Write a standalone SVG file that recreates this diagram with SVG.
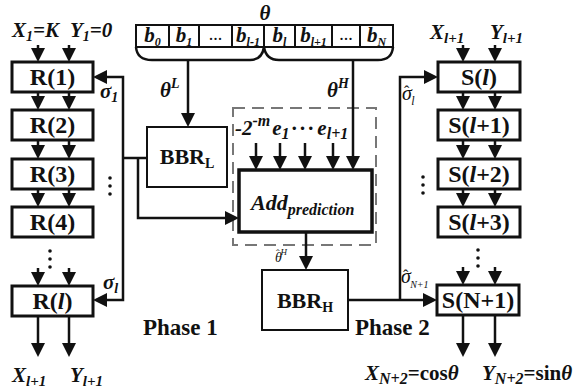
<svg xmlns="http://www.w3.org/2000/svg" width="580" height="390" viewBox="0 0 580 390" font-family="'Liberation Serif', 'DejaVu Serif', serif">
<style>
.box{fill:#fff;stroke:#111;stroke-width:3}
.thin{stroke-width:2}
.thick{stroke-width:3.5}
.c{fill:none;stroke:#111;stroke-width:2.5}
.dash{fill:none;stroke:#777;stroke-width:2;stroke-dasharray:12 7}
text{font-family:'Liberation Serif','DejaVu Serif',serif;fill:#111}
.lbl{font-size:24px;font-weight:bold;text-anchor:middle}
.v{font-style:italic;font-weight:bold;font-size:21px}
.i{font-style:italic}
.dot{fill:#111}
</style>
<defs>
<marker id="ah" viewBox="0 0 14 14" refX="9" refY="7" markerWidth="14" markerHeight="14" markerUnits="userSpaceOnUse" orient="auto">
<path d="M0,0 L14,7 L0,14 z" fill="#111" stroke="none"/>
</marker>
</defs>
<rect width="580" height="390" fill="#fff"/>

<!-- theta register -->
<g id="theta">
<text x="265" y="20" class="v" font-size="22" text-anchor="middle">θ</text>
<rect x="136" y="25" width="257" height="22" class="box thin"/>
<path d="M169,25V47M199,25V47M232,25V47M264,25V47M295,25V47M332,25V47M360,25V47" fill="none" stroke="#111" stroke-width="2"/>
<g text-anchor="middle">
<text x="152.5" y="42" class="v" font-size="20">b<tspan font-size="12" dy="4">0</tspan></text>
<text x="184" y="42" class="v" font-size="20">b<tspan font-size="12" dy="4">1</tspan></text>
<text x="215.5" y="40" font-size="18">...</text>
<text x="248" y="42" class="v" font-size="20">b<tspan font-size="12" dy="4">l-1</tspan></text>
<text x="279.5" y="42" class="v" font-size="20">b<tspan font-size="12" dy="4">l</tspan></text>
<text x="313.5" y="42" class="v" font-size="20">b<tspan font-size="12" dy="4">l+1</tspan></text>
<text x="346" y="40" font-size="18">...</text>
<text x="376.5" y="42" class="v" font-size="20">b<tspan font-size="12" dy="4">N</tspan></text>
</g>
<path d="M136,47 Q137,60 152,60 L250,60 Q262,60 264,47 Q266,60 279,60 L378,60 Q392,60 393,47" class="c"/>
</g>

<!-- R column -->
<g id="R1"><rect x="12" y="62" width="81" height="30" class="box"/><text x="52.5" y="85" class="lbl">R(1)</text></g>
<g id="R2"><rect x="12" y="110" width="81" height="30" class="box"/><text x="52.5" y="133" class="lbl">R(2)</text></g>
<g id="R3"><rect x="12" y="159" width="81" height="30" class="box"/><text x="52.5" y="182" class="lbl">R(3)</text></g>
<g id="R4"><rect x="12" y="207" width="81" height="30" class="box"/><text x="52.5" y="230" class="lbl">R(4)</text></g>
<g id="Rl"><rect x="12" y="286" width="81" height="30" class="box"/><text x="52.5" y="309" class="lbl">R(<tspan class="i">l</tspan>)</text></g>

<!-- S column -->
<g id="Sl"><rect x="438" y="62" width="82" height="30" class="box"/><text x="479" y="85" class="lbl">S(<tspan class="i">l</tspan>)</text></g>
<g id="Sl1"><rect x="438" y="110" width="82" height="30" class="box"/><text x="479" y="133" class="lbl">S(<tspan class="i">l</tspan>+1)</text></g>
<g id="Sl2"><rect x="438" y="159" width="82" height="30" class="box"/><text x="479" y="182" class="lbl">S(<tspan class="i">l</tspan>+2)</text></g>
<g id="Sl3"><rect x="438" y="207" width="82" height="30" class="box"/><text x="479" y="230" class="lbl">S(<tspan class="i">l</tspan>+3)</text></g>
<g id="SN1"><rect x="437" y="285" width="82" height="30" class="box"/><text x="478" y="308" class="lbl">S(N+1)</text></g>

<!-- BBR_L -->
<g id="BBRL"><rect x="147" y="127" width="80" height="60" class="box thin"/><text x="187" y="164" font-size="22" font-weight="bold" text-anchor="middle">BBR<tspan font-size="14" dy="4">L</tspan></text></g>

<!-- Add prediction -->
<g id="add">
<rect x="233" y="108" width="143" height="137" class="dash"/>
<text x="235" y="135" class="v" font-size="22">-2<tspan font-size="16" dy="-9">-m</tspan><tspan dy="9" dx="2">e</tspan><tspan font-size="16" dy="4">1</tspan><tspan dy="-4" dx="2" letter-spacing="3">···</tspan><tspan dx="1">e</tspan><tspan font-size="16" dy="4">l+1</tspan></text>
<rect x="239" y="170" width="133" height="62" class="box thick"/>
<text x="251" y="210" font-size="22" font-style="italic" font-weight="bold">Add<tspan font-size="16" dy="5">prediction</tspan></text>
</g>

<!-- BBR_H -->
<g id="BBRH"><rect x="262" y="270" width="86" height="60" class="box thin"/><text x="305" y="308" font-size="22" font-weight="bold" text-anchor="middle">BBR<tspan font-size="14" dy="4">H</tspan></text></g>

<!-- connectors -->
<g id="connectors" fill="none" stroke="#111" stroke-width="2.5">
<path marker-end="url(#ah)" d="M38,45V57"/><path marker-end="url(#ah)" d="M69,45V57"/>
<path marker-end="url(#ah)" d="M38,92V105"/><path marker-end="url(#ah)" d="M69,92V105"/>
<path marker-end="url(#ah)" d="M38,140V154"/><path marker-end="url(#ah)" d="M69,140V154"/>
<path marker-end="url(#ah)" d="M38,189V202"/><path marker-end="url(#ah)" d="M69,189V202"/>
<path marker-end="url(#ah)" d="M38,268V281"/><path marker-end="url(#ah)" d="M69,268V281"/>
<path marker-end="url(#ah)" d="M38,316V352"/><path marker-end="url(#ah)" d="M69,316V352"/>
<path marker-end="url(#ah)" d="M123,158V77H98"/>
<path marker-end="url(#ah)" d="M123,158V300H98"/>
<path d="M123,158H147"/>
<path marker-end="url(#ah)" d="M138,158V218H234"/>
<path marker-end="url(#ah)" d="M188,60V122"/>
<path marker-end="url(#ah)" d="M353,60V165"/>
<path marker-end="url(#ah)" d="M256,143V165"/>
<path marker-end="url(#ah)" d="M280,143V165"/>
<path marker-end="url(#ah)" d="M305,143V165"/>
<path marker-end="url(#ah)" d="M333,143V165"/>
<path marker-end="url(#ah)" d="M306,232V265"/>
<path marker-end="url(#ah)" d="M348,300H432"/>
<path marker-end="url(#ah)" d="M400,300V77H433"/>
<path marker-end="url(#ah)" d="M463,45V57"/><path marker-end="url(#ah)" d="M495,45V57"/>
<path marker-end="url(#ah)" d="M463,92V105"/><path marker-end="url(#ah)" d="M495,92V105"/>
<path marker-end="url(#ah)" d="M463,140V154"/><path marker-end="url(#ah)" d="M495,140V154"/>
<path marker-end="url(#ah)" d="M463,189V202"/><path marker-end="url(#ah)" d="M495,189V202"/>
<path marker-end="url(#ah)" d="M463,267V280"/><path marker-end="url(#ah)" d="M495,267V280"/>
<path marker-end="url(#ah)" d="M463,315V352"/><path marker-end="url(#ah)" d="M495,315V352"/>
</g>

<!-- dots -->
<g class="dot">
<circle cx="110" cy="178" r="1.8"/><circle cx="110" cy="186" r="1.8"/><circle cx="110" cy="194" r="1.8"/>
<circle cx="50" cy="251" r="1.8"/><circle cx="50" cy="259" r="1.8"/><circle cx="50" cy="267" r="1.8"/>
<circle cx="423" cy="177" r="1.8"/><circle cx="423" cy="185" r="1.8"/><circle cx="423" cy="193" r="1.8"/>
<circle cx="478" cy="250" r="1.8"/><circle cx="478" cy="258" r="1.8"/><circle cx="478" cy="266" r="1.8"/>
</g>

<!-- labels -->
<g id="labels">
<text x="12" y="37" class="v" font-size="22">X<tspan font-size="14" dy="4">1</tspan><tspan dy="-4">=K</tspan></text>
<text x="70" y="37" class="v" font-size="22">Y<tspan font-size="14" dy="4">1</tspan><tspan dy="-4">=0</tspan></text>
<text x="100" y="98" class="v" font-size="22">σ<tspan font-size="14" dy="4">1</tspan></text>
<text x="103" y="289" class="v" font-size="22">σ<tspan font-size="14" dy="4">l</tspan></text>
<text x="160" y="97" class="v" font-size="22">θ<tspan font-size="14" dy="-9">L</tspan></text>
<text x="327" y="97" class="v" font-size="22">θ<tspan font-size="14" dy="-9">H</tspan></text>
<text x="275" y="262" class="i" font-size="14">θ<tspan dx="-6" dy="-5" font-size="11" font-style="normal">ˆ</tspan><tspan font-size="9" dx="1" dy="-2">H</tspan></text>
<text x="402" y="100" class="i" font-size="20">σ<tspan dx="-8" dy="-3" font-size="16" font-style="normal">ˆ</tspan><tspan font-size="12" dx="2" dy="8">l</tspan></text>
<text x="401" y="283" class="i" font-size="20">σ<tspan dx="-8" dy="-2" font-size="16" font-style="normal">ˆ</tspan><tspan font-size="10" dx="2" dy="7">N+1</tspan></text>
<text x="430" y="39" class="v" font-size="22">X<tspan font-size="15" dy="4">l+1</tspan></text>
<text x="490" y="39" class="v" font-size="22">Y<tspan font-size="15" dy="4">l+1</tspan></text>
<text x="12" y="382" class="v" font-size="22">X<tspan font-size="15" dy="4">l+1</tspan></text>
<text x="70" y="382" class="v" font-size="22">Y<tspan font-size="15" dy="4">l+1</tspan></text>
<text x="365" y="380" class="v" font-size="24">X<tspan font-size="16" dy="4">N+2</tspan><tspan dy="-4" font-style="normal">=cos</tspan>θ</text>
<text x="482" y="380" class="v" font-size="23.5">Y<tspan font-size="16" dy="4">N+2</tspan><tspan dy="-4" font-style="normal">=sin</tspan>θ</text>
<text x="143" y="335" font-size="23" font-weight="bold">Phase 1</text>
<text x="355" y="335" font-size="23" font-weight="bold">Phase 2</text>
</g>
</svg>
